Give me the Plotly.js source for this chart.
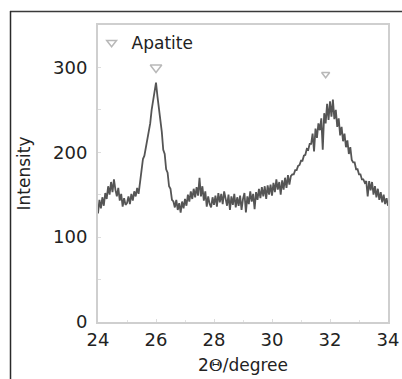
<!DOCTYPE html>
<html>
<head>
<meta charset="utf-8">
<script src="https://cdn.plot.ly/plotly-3.0.1.min.js"></script>
<style>
  html, body { margin: 0; padding: 0; background: #fff; }
  #chart { width: 402px; height: 379px; }
</style>
</head>
<body>
<div id="chart"></div>
<script>
// XRD pattern, 2θ from 24 to 34 degrees, sampled every 0.05 degree
const twoThetaStart = 24;
const twoThetaStep = 0.05;
const intensity = [
  128, 144, 134, 147, 137, 152, 145, 160, 150, 165, 153, 168, 156, 148, 158, 143, 151, 136, 146, 138,
  140, 148, 139, 151, 143, 154, 148, 158, 151, 164, 175, 192, 196, 206, 213, 224, 234, 250, 260, 272,
  282, 266, 254, 236, 224, 203, 198, 180, 176, 160, 157, 144, 142, 135, 144, 132, 140, 129, 142, 134,
  145, 137, 150, 142, 154, 145, 157, 147, 159, 149, 170, 148, 160, 143, 154, 136, 148, 139, 135, 147,
  138, 149, 136, 152, 141, 151, 139, 154, 143, 137, 150, 132, 148, 138, 151, 135, 147, 137, 149, 132,
  145, 152, 129, 148, 139, 154, 142, 151, 133, 153, 144, 157, 146, 159, 148, 160, 145, 161, 150, 162,
  149, 164, 153, 168, 156, 165, 150, 167, 156, 170, 158, 173, 162, 172, 174, 174, 179, 179, 184, 185,
  190, 190, 196, 197, 204, 203, 210, 210, 222, 201, 228, 217, 234, 226, 240, 203, 246, 234, 257, 238,
  260, 242, 262, 239, 250, 230, 240, 220, 230, 213, 222, 206, 214, 198, 206, 191, 188, 188, 180, 180,
  174, 174, 168, 168, 164, 166, 148, 166, 155, 165, 150, 160, 147, 157, 144, 153, 141, 150, 139, 146,
  137
];
// Apatite peak markers
const apatiteX = [26.0, 31.85];
const apatiteY = [300, 292];
const apatiteSize = [10, 7];
// Axis ticks
const xTicks = [24, 26, 28, 30, 32, 34];
const yTicks = [0, 100, 200, 300];

const FONT = 'DejaVu Sans, Verdana, sans-serif';

const traces = [
  {
    type: 'scatter', mode: 'lines',
    x0: twoThetaStart, dx: twoThetaStep, y: intensity,
    line: { color: '#555555', width: 1.8 },
    showlegend: false, hoverinfo: 'skip'
  },
  {
    type: 'scatter', mode: 'markers', name: 'Apatite',
    x: apatiteX, y: apatiteY,
    marker: { symbol: 'triangle-down-open', size: apatiteSize, color: '#9a9a9a', line: { width: 1.5, color: '#9a9a9a' } },
    showlegend: true
  }
];

const layout = {
  width: 402, height: 379,
  margin: { l: 98, r: 14, t: 25, b: 57 },
  paper_bgcolor: '#fff', plot_bgcolor: '#fff',
  font: { family: FONT, size: 17, color: '#222' },
  showlegend: true,
  legend: {
    x: -0.022, y: 1.0, xanchor: 'left', yanchor: 'top',
    bgcolor: 'rgba(0,0,0,0)', borderwidth: 0,
    font: { family: FONT, size: 17, color: '#222' },
    itemwidth: 30
  },
  xaxis: {
    range: [24, 34], tickvals: xTicks, ticktext: xTicks.map(String),
    showgrid: false, zeroline: false,
    showline: true, mirror: true, linecolor: '#cfcfcf', linewidth: 2,
    ticks: 'inside', ticklen: 3, tickcolor: '#dddddd', tickwidth: 1,
    minor: { dtick: 1, ticks: 'inside', ticklen: 2, tickcolor: '#e2e2e2' },
    tickfont: { family: FONT, size: 18, color: '#222' },
    title: { text: '2<span style="font-family:DejaVu Serif">Θ</span>/degree', font: { family: FONT, size: 17, color: '#222' }, standoff: 11 },
    automargin: false
  },
  yaxis: {
    range: [0, 350], tickvals: yTicks, ticktext: yTicks.map(String),
    showgrid: false, zeroline: false,
    showline: true, mirror: true, linecolor: '#cfcfcf', linewidth: 2,
    ticks: 'inside', ticklen: 3, tickcolor: '#dddddd', tickwidth: 1,
    minor: { dtick: 50, ticks: 'inside', ticklen: 3, tickcolor: '#dddddd' },
    tickfont: { family: FONT, size: 18, color: '#222' },
    ticklabelstandoff: 5,
    title: { text: 'Intensity', font: { family: FONT, size: 17, color: '#222' }, standoff: 18 },
    automargin: false
  },
  shapes: [
    { type: 'line', xref: 'paper', yref: 'paper', x0: -0.3034, x1: 1.0483, y0: 1.0455, y1: 1.0455, line: { color: '#3a3a3a', width: 1.5 } },
    { type: 'line', xref: 'paper', yref: 'paper', x0: -0.3017, x1: -0.3017, y0: 1.0471, y1: -0.1919, line: { color: '#2a2a2a', width: 1.5 } }
  ]
};

Plotly.newPlot('chart', traces, layout, { displayModeBar: false, staticPlot: true });
</script>
</body>
</html>
